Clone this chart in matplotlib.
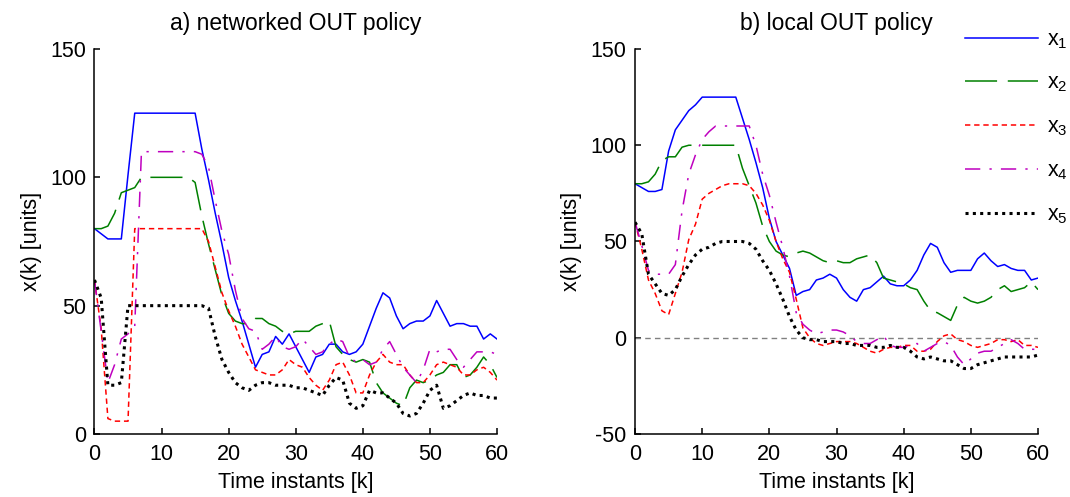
"""
Inventory trajectories x1..x5 under the networked and the local OUT policy.
Saves the two-panel figure to out.png.
"""

import matplotlib
matplotlib.use("Agg")
import matplotlib.pyplot as plt
import numpy as np


OUT_PATH = "out.png"

# time instants k = 0..60
time_k = np.arange(0, 61)

panel_titles = ["a) networked OUT policy", "b) local OUT policy"]
series_labels = ["x$_1$", "x$_2$", "x$_3$", "x$_4$", "x$_5$"]

# a) networked OUT policy
net_x1 = [80, 78, 76, 76, 76, 101, 125, 125, 125, 125, 125, 125, 125, 125, 125, 125,
          111, 99, 86, 74, 61, 52, 44, 35, 26, 31, 32, 38, 35, 39, 34, 29, 24, 30, 31,
          35, 35, 32, 31, 32, 35, 42, 49, 55, 53, 46, 41, 43, 44, 44, 46, 52, 47, 42,
          43, 43, 42, 42, 37, 39, 37]
net_x2 = [80, 80, 81, 86, 94, 95, 96, 100, 100, 100, 100, 100, 100, 100, 100, 98,
          85, 74, 64, 54, 47, 44, 43, 43, 45, 45, 43, 42, 40, 39, 40, 40, 40, 42, 43,
          44, 34, 31, 29, 28, 29, 28, 20, 16, 14, 12, 11, 18, 21, 20, 21, 23, 24, 27,
          27, 22, 23, 26, 30, 27, 22]
net_x3 = [60, 41, 6, 5, 5, 5, 80, 80, 80, 80, 80, 80, 80, 80, 80, 80, 80, 75, 65,
          55, 48, 42, 35, 30, 25, 24, 23, 23, 25, 29, 27, 26, 22, 19, 17, 21, 27, 28,
          23, 16, 16, 23, 28, 31, 28, 27, 27, 23, 20, 20, 23, 27, 28, 27, 26, 23, 23,
          25, 26, 24, 21]
net_x4 = [60, 40, 20, 27, 37, 39, 42, 110, 110, 110, 110, 110, 110, 110, 110, 110,
          109, 104, 91, 79, 70, 56, 45, 41, 40, 33, 35, 38, 34, 33, 34, 37, 34, 31, 32,
          35, 37, 36, 30, 28, 29, 27, 28, 33, 36, 31, 26, 23, 20, 25, 33, 32, 33, 33,
          29, 26, 29, 32, 32, 32, 31]
net_x5 = [60, 53, 19, 19, 20, 50, 50, 50, 50, 50, 50, 50, 50, 50, 50, 50, 50, 49,
          38, 29, 24, 20, 18, 17, 19, 20, 20, 19, 19, 19, 18, 18, 17, 16, 15, 19, 22,
          21, 12, 10, 11, 17, 16, 16, 14, 12, 8, 7, 8, 12, 17, 19, 10, 11, 13, 15, 16,
          15, 15, 14, 14]

# b) local OUT policy
loc_x1 = [80, 78, 76, 76, 77, 97, 108, 113, 118, 121, 125, 125, 125, 125, 125, 125,
          114, 103, 91, 78, 62, 50, 43, 36, 22, 24, 25, 30, 31, 33, 31, 25, 21, 19, 25,
          26, 29, 32, 28, 27, 27, 30, 35, 43, 49, 47, 39, 34, 35, 35, 35, 41, 44, 40,
          37, 38, 36, 35, 35, 30, 31]
loc_x2 = [80, 80, 81, 85, 92, 94, 94, 99, 100, 100, 100, 100, 100, 100, 100, 100,
          88, 79, 70, 58, 50, 45, 43, 42, 44, 45, 44, 42, 40, 39, 40, 39, 39, 41, 42,
          43, 39, 31, 30, 29, 28, 26, 25, 19, 14, 13, 11, 9, 17, 21, 19, 18, 19, 21,
          25, 27, 24, 25, 26, 29, 25]
loc_x3 = [60, 46, 30, 23, 14, 12, 23, 34, 51, 59, 72, 75, 77, 79, 80, 80, 80, 79,
          75, 69, 61, 50, 41, 34, 20, 5, 0, -3, -4, -3, -2, -2, -2, -3, -5, -7, -8,
          -6, -5, -5, -4, -4, -7, -7, -6, -2, 1, 2, -1, -2, -4, -5, -4, -3, -1, -1,
          -2, -1, -4, -4, -5]
loc_x4 = [60, 48, 35, 33, 33, 33, 38, 66, 85, 95, 103, 107, 110, 110, 110, 110, 110,
          110, 100, 85, 74, 60, 47, 32, 13, 7, 4, 2, 3, 4, 4, 3, 1, -2, -3, -3, -1,
          1, -4, -5, -5, -4, -3, -7, -5, -3, -2, -4, -10, -14, -11, -8, -7, -7, -5,
          -3, -1, -3, -6, -6, -6]
loc_x5 = [60, 54, 33, 28, 23, 22, 25, 32, 38, 43, 46, 47, 49, 50, 50, 50, 50, 49,
          46, 40, 35, 28, 20, 11, 4, 0, -1, -1, -2, -2, -2, -3, -3, -4, -4, -4, -5,
          -5, -4, -5, -5, -7, -10, -11, -10, -11, -12, -12, -14, -16, -16, -14, -13,
          -12, -11, -10, -10, -10, -10, -10, -9]

x_ticks = [0, 10, 20, 30, 40, 50, 60]
left_y_ticks = [0, 50, 100, 150]
right_y_ticks = [-50, 0, 50, 100, 150]

# colour, dash pattern (None = solid), line width
LINE_STYLES = [
    ("#0000ff", None, 1.1),
    ("#008000", (21, 7), 1.1),
    ("#ff0000", (3.5, 2.5), 1.1),
    ("#bf00bf", (10, 6, 1.5, 6), 1.1),
    ("#000000", (1, 1.4), 2.2),
]

FONT_SIZE = 15.5


def style_axes(ax, y_ticks):
    """MATLAB-like axes: no box, inward ticks."""
    ax.spines["top"].set_visible(False)
    ax.spines["right"].set_visible(False)
    ax.spines["left"].set_linewidth(1.1)
    ax.spines["bottom"].set_linewidth(1.1)

    ax.set_xlim(0, 60)
    ax.set_xticks(x_ticks)
    ax.set_ylim(y_ticks[0], y_ticks[-1])
    ax.set_yticks(y_ticks)

    ax.tick_params(direction="in", length=4, width=1.1, labelsize=FONT_SIZE)
    ax.tick_params(axis="x", pad=7)
    ax.tick_params(axis="y", pad=6)
    ax.set_xlabel("Time instants [k]", fontsize=FONT_SIZE, labelpad=5)
    ax.set_ylabel("x(k) [units]", fontsize=FONT_SIZE, labelpad=6)


def draw_panel(ax, series, title):
    """Draw the five trajectories of one panel."""
    lines = []
    for values, label, (color, dashes, lw) in zip(series, series_labels, LINE_STYLES):
        (line,) = ax.plot(time_k, values, color=color, linewidth=lw, label=label)
        if dashes is not None:
            line.set_dashes(dashes)
        lines.append(line)

    ax.set_title(title, fontsize=16.5, pad=14)
    return lines


def main() -> None:
    plt.rcParams["font.family"] = ["Liberation Sans", "DejaVu Sans"]
    plt.rcParams["mathtext.fontset"] = "custom"
    plt.rcParams["mathtext.rm"] = "Liberation Sans"
    plt.rcParams["mathtext.it"] = "Liberation Sans"
    plt.rcParams["axes.unicode_minus"] = False

    fig = plt.figure(figsize=(10.7, 4.97), dpi=100)
    ax_net = fig.add_axes([0.0883, 0.1268, 0.3762, 0.7746])
    ax_loc = fig.add_axes([0.5935, 0.1268, 0.3766, 0.7746])

    draw_panel(ax_net, [net_x1, net_x2, net_x3, net_x4, net_x5], panel_titles[0])
    style_axes(ax_net, left_y_ticks)

    ax_loc.axhline(0, color="#808080", linewidth=1.0, dashes=(4, 3))
    lines = draw_panel(ax_loc, [loc_x1, loc_x2, loc_x3, loc_x4, loc_x5], panel_titles[1])
    style_axes(ax_loc, right_y_ticks)

    fig.legend(
        handles=lines,
        loc="upper left",
        bbox_to_anchor=(950 / 1070, 1 - 14 / 497),
        frameon=False,
        fontsize=FONT_SIZE,
        handlelength=3.4,
        handletextpad=0.4,
        labelspacing=1.03,
        borderpad=0.2,
    )

    fig.savefig(OUT_PATH, dpi=100)
    plt.close(fig)


if __name__ == "__main__":
    main()
